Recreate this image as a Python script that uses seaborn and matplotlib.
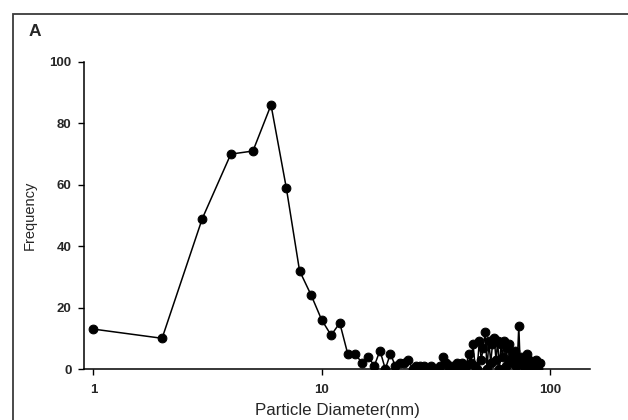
import matplotlib
matplotlib.use("Agg")
import matplotlib.pyplot as plt
import seaborn as sns
import pandas as pd
from matplotlib.patches import Rectangle

diameter = list(range(1, 91))
frequency = [13, 10, 49, 70, 71, 86, 59, 32, 24, 16,
             11, 15, 5, 5, 2, 4, 1, 6, 0, 5,
             1, 2, 2, 3, 0, 1, 1, 1, 0, 1,
             0, 0, 1, 4, 2, 0, 1, 0, 2, 1,
             2, 0, 1, 5, 2, 8, 1, 0, 9, 3,
             7, 12, 0, 9, 2, 8, 10, 3, 9, 0,
             8, 4, 9, 1, 7, 8, 3, 5, 2, 6,
             1, 3, 14, 2, 4, 3, 1, 0, 5, 2,
             3, 1, 0, 2, 1, 0, 3, 1, 0, 2]
xticks = [1, 10, 100]
yticks = [0, 20, 40, 60, 80, 100]

df = pd.DataFrame({"Particle Diameter(nm)": diameter, "Frequency": frequency})

sns.set_style("ticks")
plt.rcParams['font.family'] = ['Liberation Sans', 'DejaVu Sans']

fig = plt.figure(figsize=(6.28, 4.2), dpi=100)
W, H = 628, 420
ax_l, ax_r, ax_t, ax_b = 84, 590, 62, 369
ax = fig.add_axes([ax_l / W, (H - ax_b) / H, (ax_r - ax_l) / W, (ax_b - ax_t) / H])

sns.lineplot(data=df, x="Particle Diameter(nm)", y="Frequency", ax=ax,
             color="black", marker="o", markersize=6.3, linewidth=1.1,
             markeredgecolor="black", sort=False)

ax.set_xscale("log")
ax.set_xlim(0.91, 149.7)
ax.set_ylim(0, 100)
ax.set_xticks(xticks)
ax.set_xticklabels([str(t) for t in xticks])
ax.xaxis.set_minor_locator(matplotlib.ticker.NullLocator())
ax.set_yticks(yticks)
ax.set_yticklabels([str(t) for t in yticks])
for lab in ax.get_xticklabels() + ax.get_yticklabels():
    lab.set_fontweight("bold")
    lab.set_fontsize(9.5)
ax.tick_params(direction="out", length=4, width=1, color="black")
ax.tick_params(axis="x", pad=7)
ax.tick_params(axis="y", pad=5)
sns.despine(ax=ax)
for s in ["left", "bottom"]:
    ax.spines[s].set_color("black")
    ax.spines[s].set_linewidth(1.1)

ax.set_xlabel("Particle Diameter(nm)", fontsize=12.2, va="baseline")
ax.xaxis.set_label_coords(0.5, -(415.5 - ax_b) / (ax_b - ax_t))
ax.set_ylabel("Frequency", fontsize=10.5, va="center")
ax.yaxis.set_label_coords((30 - ax_l) / (ax_r - ax_l), 0.5)

fig.text(35 / W, (H - 32) / H, "A", fontsize=12.5, fontweight="bold",
         va="center", ha="center")

fig.patches.append(Rectangle((12.5 / W, -0.1), 1.2, (H - 14) / H + 0.1,
                             transform=fig.transFigure, fill=False,
                             edgecolor="#3a3a3a", linewidth=1.3))

fig.savefig("out.png", dpi=100)
